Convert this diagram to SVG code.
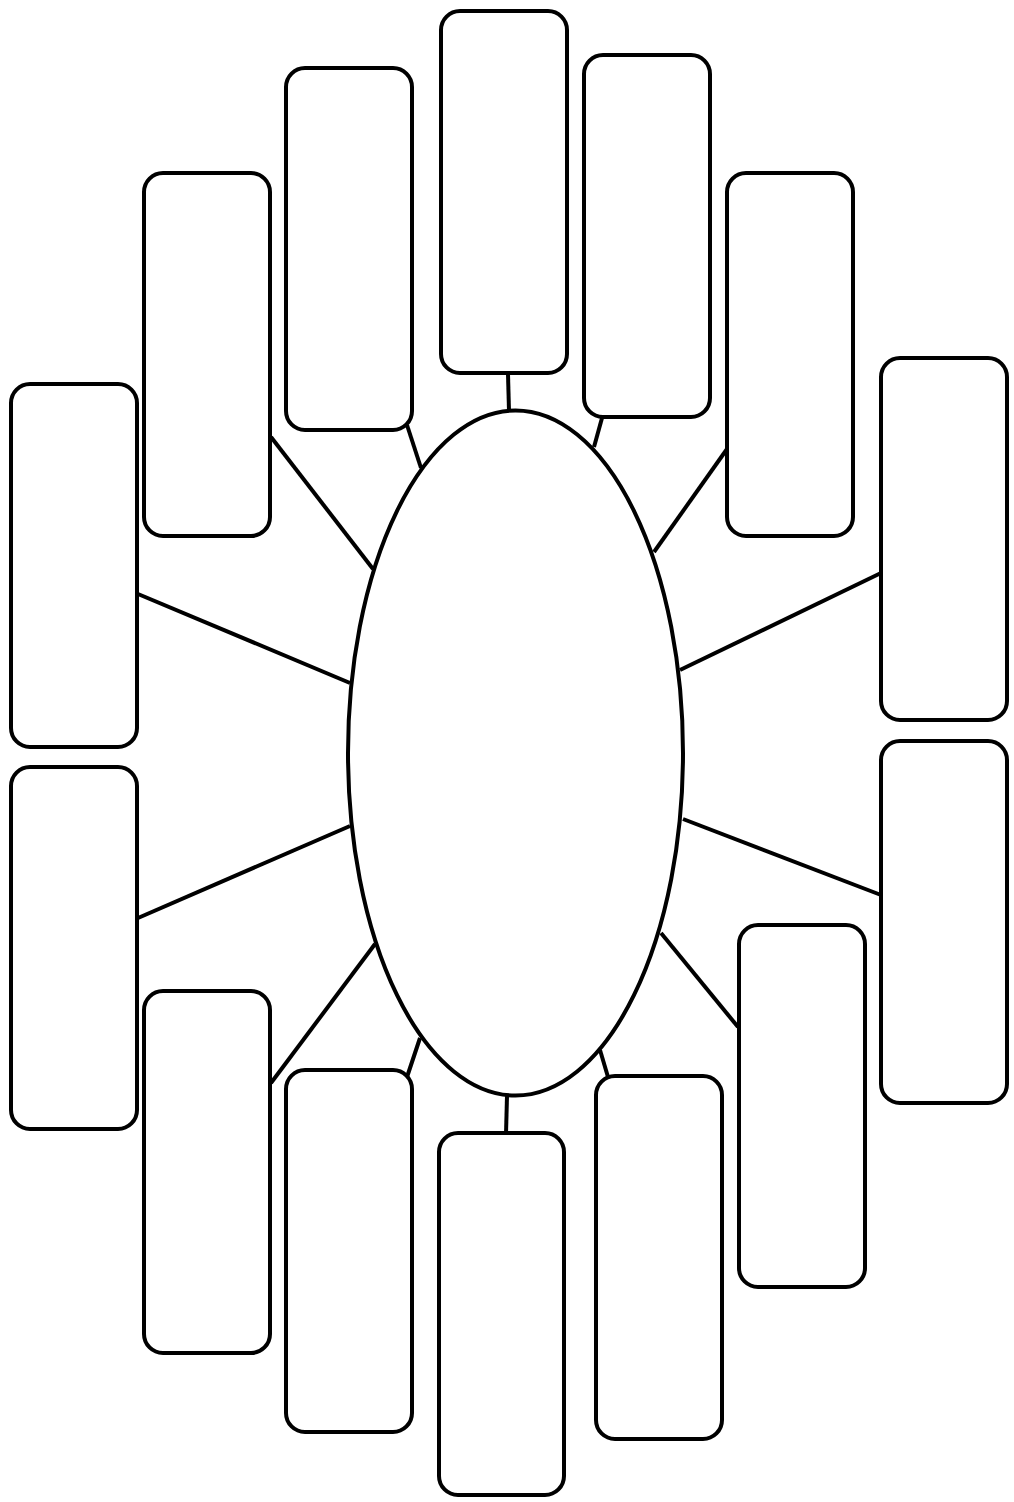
<svg xmlns="http://www.w3.org/2000/svg" width="1014" height="1502" viewBox="0 0 1014 1502">
<style>
.box{fill:#fff;stroke:#000;stroke-width:4}
.hub{fill:#fff;stroke:#000;stroke-width:4}
.con line{stroke:#000;stroke-width:4;stroke-linecap:butt}
</style>
<rect width="1014" height="1502" fill="#fff"/>
<g id="connectors" class="con">
<line x1="508" y1="374" x2="509" y2="411"/>
<line x1="407" y1="425" x2="421" y2="468"/>
<line x1="271" y1="437" x2="373" y2="569"/>
<line x1="138" y1="594" x2="350" y2="683"/>
<line x1="138" y1="918" x2="350" y2="826"/>
<line x1="271" y1="1083" x2="375" y2="944"/>
<line x1="407" y1="1077" x2="420" y2="1038"/>
<line x1="506" y1="1134" x2="507" y2="1096"/>
<line x1="608" y1="1077" x2="600" y2="1050"/>
<line x1="738" y1="1027" x2="661" y2="933"/>
<line x1="881" y1="895" x2="683" y2="819"/>
<line x1="881" y1="573" x2="680" y2="670"/>
<line x1="727" y1="449" x2="654" y2="552"/>
<line x1="602" y1="418" x2="594" y2="447"/>
</g>
<g id="hub"><ellipse class="hub" cx="515.5" cy="753" rx="167.5" ry="342.5"/></g>
<g id="n1"><rect class="box" x="441" y="11" width="126" height="362" rx="19"/></g>
<g id="n2"><rect class="box" x="286" y="68" width="126" height="362" rx="19"/></g>
<g id="n3"><rect class="box" x="144" y="173" width="126" height="363" rx="19"/></g>
<g id="n4"><rect class="box" x="11" y="384" width="126" height="363" rx="19"/></g>
<g id="n5"><rect class="box" x="11" y="767" width="126" height="362" rx="19"/></g>
<g id="n6"><rect class="box" x="144" y="991" width="126" height="362" rx="19"/></g>
<g id="n7"><rect class="box" x="286" y="1070" width="126" height="362" rx="19"/></g>
<g id="n8"><rect class="box" x="439" y="1133" width="125" height="362" rx="19"/></g>
<g id="n9"><rect class="box" x="596" y="1076" width="126" height="363" rx="19"/></g>
<g id="n10"><rect class="box" x="739" y="925" width="126" height="362" rx="19"/></g>
<g id="n11"><rect class="box" x="881" y="741" width="126" height="362" rx="19"/></g>
<g id="n12"><rect class="box" x="881" y="358" width="126" height="362" rx="19"/></g>
<g id="n13"><rect class="box" x="727" y="173" width="126" height="363" rx="19"/></g>
<g id="n14"><rect class="box" x="584" y="55" width="126" height="362" rx="19"/></g>
</svg>
